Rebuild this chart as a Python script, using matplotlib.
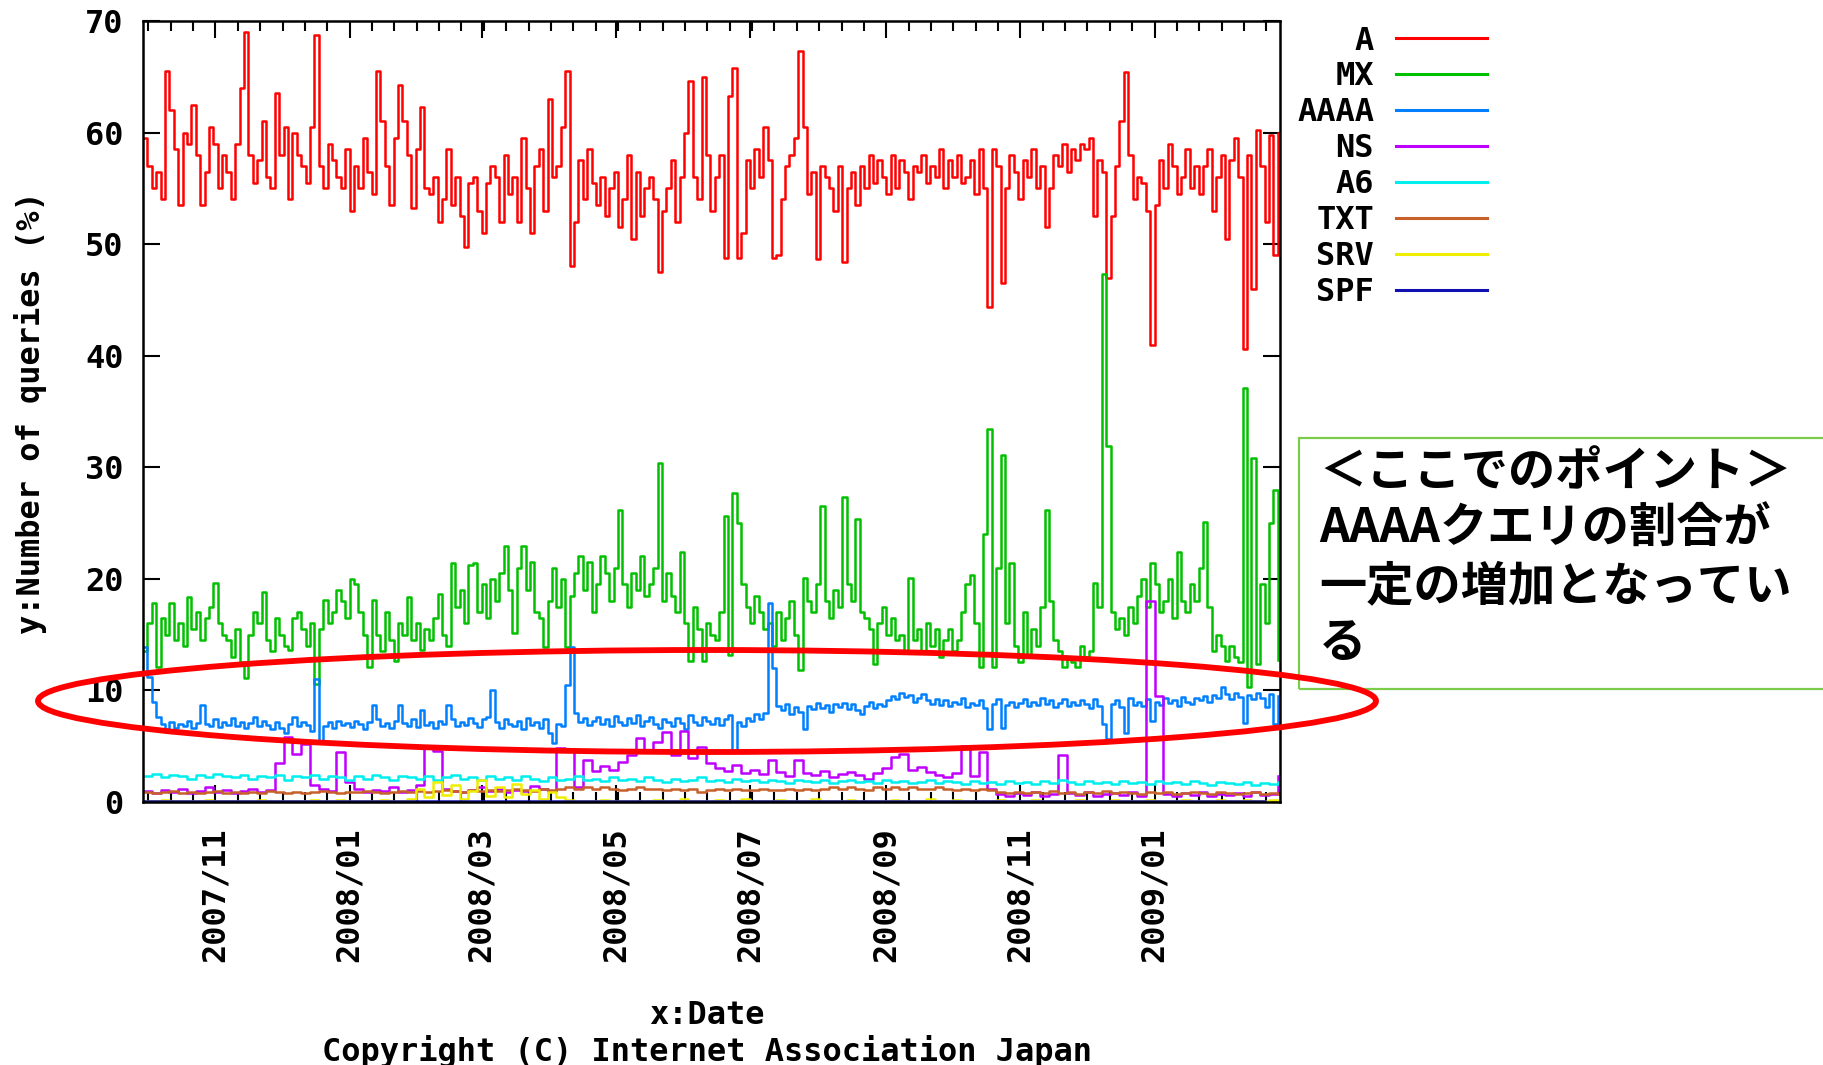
import numpy as np
import pandas as pd
import matplotlib
matplotlib.use("Agg")
import matplotlib.pyplot as plt
import matplotlib.dates as mdates
from matplotlib.patches import Ellipse, Rectangle
from matplotlib.ticker import FixedLocator

plt.rcParams['font.family'] = ['DejaVu Sans Mono']
plt.rcParams['font.weight'] = 'bold'

# share of each query type (%), one sample every 2 days from 2007/09/29
days2 = pd.date_range('2007-09-29', periods=259, freq='2D')

a_rec = [
    59.5, 57, 55, 56.5, 54, 65.5, 62, 58.5, 53.5, 60,
    59, 62.5, 58, 53.5, 56.5, 60.5, 59, 55, 58, 56.5,
    54, 59, 64, 69, 58, 55.5, 57.5, 61, 56, 55,
    63.5, 58, 60.5, 54, 60, 58, 57, 55.5, 60.5, 68.7,
    57, 55, 59, 57.5, 56, 55, 58.5, 53, 57, 55,
    59.5, 56.5, 54.5, 65.5, 61, 57, 53.5, 59.5, 64.3, 61,
    58, 53.2, 58.5, 62.3, 55, 54.5, 56, 52, 54, 58.5,
    53.5, 56, 52.5, 49.7, 55.5, 56, 53, 51, 55.5, 57,
    56, 52, 58, 54.5, 56, 52, 59.5, 55, 51, 57,
    58.5, 53, 63, 56, 57, 60.5, 65.5, 48, 52, 57.5,
    54, 58.5, 55.5, 53.5, 56, 52.5, 55, 56.5, 51.5, 54,
    58, 50.5, 56.5, 52.5, 55, 56, 54, 47.5, 53, 55,
    57.5, 52, 56, 60, 64.6, 56, 54, 65, 58, 53,
    56, 58, 48.8, 63.3, 65.8, 48.8, 51, 57.5, 55, 58.5,
    56, 60.5, 57.5, 48.8, 49, 54, 57, 58, 59.5, 67.3,
    60.5, 54.5, 56.5, 48.7, 57, 56, 55, 53, 57, 48.4,
    55, 56.5, 53.5, 57, 55, 58, 55.5, 57.5, 56, 54.5,
    58, 55, 57.5, 56.5, 54, 57, 56.5, 58, 55.5, 57,
    56, 58.5, 55, 57.5, 56, 58, 55.5, 56, 57.5, 54.5,
    58.5, 55, 44.4, 58.5, 57, 46.5, 55, 58, 56.5, 54,
    57.5, 56, 58.5, 55, 57, 51.5, 55, 58, 57, 59,
    56.5, 58.5, 57.5, 59, 58.5, 59.5, 52.5, 57.5, 56.5, 47,
    52.5, 57, 61, 65.4, 58, 54, 56, 55.5, 53, 41,
    53.5, 57.5, 55, 59, 57, 54.5, 56, 58.5, 55, 57,
    54.5, 57, 58.5, 53, 56, 58, 50.5, 57.5, 59.5, 56,
    40.6, 58, 46, 60.2, 57, 52, 59.8, 49, 60,
]

mx_rec = [
    13.5, 16, 17.8, 12.1, 16.5, 15, 17.8, 14.5, 16, 14,
    18.4, 15.5, 17, 14.5, 16.5, 17.5, 19.6, 16, 15, 14.5,
    13, 15.5, 12.5, 11.1, 15, 17, 16, 18.8, 14.5, 13.5,
    16.5, 15, 14, 13.6, 16.5, 17, 15.5, 14, 16, 10.6,
    15.5, 18.1, 16, 17, 19, 18, 16.5, 20, 19.5, 17,
    15, 12.1, 18.1, 15, 13.5, 17, 14.5, 12.6, 16, 15,
    18.4, 14.5, 16, 13.6, 15.5, 14.5, 16.5, 18.6, 15, 14,
    21.4, 17.5, 19, 16, 21.2, 21.4, 17, 19.5, 16.5, 20,
    18, 20.5, 22.9, 19, 15.1, 21, 22.9, 19, 21.5, 17,
    16.5, 13.9, 18, 21, 17.5, 20, 13.9, 18.5, 20.5, 22,
    19, 21.5, 17, 19.5, 22, 20.5, 18, 21, 26.2, 19.5,
    17.5, 20.5, 19, 22, 18.5, 19.5, 21, 30.4, 18, 20.5,
    18.5, 17, 22.4, 16, 12.6, 17.5, 15.5, 12.6, 16, 15,
    14.5, 17, 25.6, 13.2, 27.7, 25, 19.5, 17.5, 16, 18.5,
    17, 15.5, 16, 14, 17, 14.5, 16.5, 18, 15, 11.8,
    20.1, 18, 17, 19.5, 26.5, 18, 16.5, 19, 17.5, 27.3,
    19.5, 18, 25.4, 17, 16.5, 15.5, 12.4, 16, 17.5, 15,
    16.5, 14.5, 15, 13.5, 20.1, 14.5, 15.5, 13.5, 16, 14,
    15.5, 13, 14.5, 15.5, 13.5, 14.5, 17, 19.5, 20.3, 16,
    12.1, 24, 33.4, 12.1, 21, 31.1, 16, 21.4, 14, 12.5,
    17, 13, 15.5, 14, 17.5, 26.2, 18, 14.5, 13.5, 12.1,
    13, 12.5, 12.1, 14, 13, 13.5, 19.6, 17.5, 47.3, 31.9,
    17, 15.5, 16.5, 15, 17.5, 16, 18.5, 20, 17.5, 21.4,
    19.5, 17, 18, 20, 16.5, 22.4, 18, 17, 19.5, 18,
    21, 25.1, 17.5, 13.5, 15, 14, 12.6, 14, 13, 12.5,
    37.1, 10.3, 30.8, 12.4, 19.5, 16, 25, 28, 12.7,
]

aaaa_rec = [
    13.9, 11.2, 9, 7.6, 7, 6.5, 7.2, 6.6, 7, 6.8,
    7.3, 6.6, 7.1, 8.7, 7, 6.8, 7.4, 6.7, 7.2, 6.9,
    7.5, 6.8, 7.2, 6.6, 7.1, 7.6, 6.8, 7.3, 6.9, 6.5,
    7.2, 6.6, 6.2, 7, 7.6, 6.8, 7.2, 6.9, 6.4, 11,
    5.5, 6.8, 7.2, 6.6, 7.3, 6.9, 7.1, 6.7, 7.3, 7,
    6.5, 7.2, 8.7, 7.4, 6.8, 7.1, 6.6, 7.3, 8.7, 7.1,
    6.8, 7.4, 6.7, 8.2, 6.9, 7.2, 6.6, 7.3, 7, 8.7,
    7.4, 6.8, 7.2, 6.9, 7.5, 7.1, 6.7, 7.4, 7.6, 10,
    7.2, 6.6, 7.4, 7, 6.8, 7.3, 6.5, 7.5, 6.9, 7.2,
    6.6, 7.4, 6.2, 5.3, 7, 6.8, 10.5, 13.9, 8, 7.2,
    7.5, 6.9, 7.3, 7.6, 7, 7.4, 6.8, 7.7, 7.2, 6.9,
    7.5, 7.1, 7.8, 6.8, 7.3, 7.6, 7, 6.6, 7.4, 7.2,
    6.8, 7.5, 7.1, 6.5, 7.8, 7.2, 6.9, 7.6, 7.3, 7,
    7.5, 6.9, 7.4, 7.8, 4.6, 7.2, 6.8, 7.5, 7.3, 7.9,
    7.4, 8, 17.8, 12, 8.6, 8.2, 8.8, 7.9, 8.5, 8.1,
    6.5, 8.6, 8.3, 8.9, 8.4, 8.7, 8.1, 8.8, 8.5, 8.9,
    8.3, 8.8, 8.2, 7.9, 8.6, 9, 8.4, 8.8, 8.6, 9.1,
    9.5, 9.2, 9.8, 9.4, 9.6, 9, 9.3, 9.7, 9.1, 8.8,
    9.2, 8.7, 9.1, 8.6, 9, 8.8, 9.3, 8.5, 8.9, 8.7,
    9.1, 8.4, 6.5, 8.8, 9.2, 6.6, 8.7, 9, 8.5, 8.9,
    9.2, 8.6, 9, 8.7, 9.3, 8.8, 9.1, 8.5, 8.9, 9.2,
    8.6, 9, 8.7, 9.1, 8.8, 8.4, 9.2, 8.6, 7, 5.6,
    8.8, 9.1, 8.5, 6.2, 9.3, 8.7, 9, 8.6, 9.2, 7.3,
    9, 8.7, 9.3, 8.9, 9.1, 8.6, 9.4, 9, 8.8, 9.3,
    9.1, 9.5, 9, 9.6, 9.3, 10.3, 9.7, 9.2, 9.8, 9.4,
    7.1, 9.6, 9.2, 9.8, 9.3, 8.5, 9.7, 7, 9.5,
]

# smaller types, one sample every 4 days
days4 = pd.date_range('2007-09-29', periods=130, freq='4D')

ns_rec = [
    1.0, 0.8, 1.1, 0.9, 1.2, 0.8, 1.0, 1.3, 0.9, 1.1,
    0.8, 1.0, 1.2, 0.9, 1.1, 3.5, 5.8, 4.3, 5.2, 1.5,
    1.2, 1.0, 4.5, 1.8, 1.2, 0.9, 1.1, 1.0, 1.3, 0.9,
    1.1, 1.5, 4.8, 4.6, 1.2, 1.0, 0.9, 1.1, 1.3, 1.0,
    1.2, 0.9, 1.1, 1.0, 1.4, 1.2, 1.0, 4.8, 4.7, 1.3,
    3.8, 2.8, 3.2, 2.9, 3.6, 4.2, 5.7, 4.5, 5.4, 6.3,
    4.2, 6.4, 3.9, 4.9, 3.5, 3.0, 2.8, 3.3, 2.6, 2.9,
    2.5, 3.8, 2.7, 2.3, 3.8, 2.6, 2.4, 2.8, 2.2, 2.5,
    2.7, 2.4, 2.1, 2.6, 3.0, 4.0, 4.3, 2.9, 3.1, 2.7,
    2.4, 2.2, 2.6, 5.0, 2.3, 4.5, 1.2, 0.7, 0.5, 0.8,
    0.6, 0.9, 0.5, 0.7, 4.2, 0.8, 0.6, 0.9, 0.5, 0.7,
    0.8, 0.6, 0.9, 0.5, 18.0, 9.5, 0.7, 0.5, 0.8, 0.6,
    0.9, 0.5, 0.7, 0.6, 0.8, 0.5, 0.9, 0.6, 0.7, 2.3,
]

a6_rec = [
    2.3, 2.5, 2.2, 2.4, 2.3, 2.1, 2.4, 2.2, 2.5, 2.3,
    2.2, 2.4, 2.1, 2.3, 2.2, 2.4, 2.0, 2.3, 2.2, 2.4,
    2.1, 2.3, 2.2, 2.0, 2.3, 2.1, 2.4, 2.2, 2.0, 2.3,
    2.2, 2.1, 2.3, 2.0, 2.2, 2.4, 2.1, 2.2, 2.0, 2.3,
    2.1, 2.2, 2.0, 2.3, 2.1, 1.9, 2.2, 2.0, 2.1, 2.3,
    2.0, 2.1, 1.9, 2.2, 2.0, 2.1, 1.9, 2.2, 2.0, 1.8,
    2.1, 1.9, 2.0, 2.2, 1.9, 2.0, 1.8, 2.1, 1.9, 2.0,
    1.8, 2.0, 1.9, 1.7, 2.0, 1.9, 1.8, 2.0, 1.7, 1.9,
    2.0, 1.8, 1.9, 1.7, 2.0, 1.8, 1.9, 1.7, 1.8, 2.0,
    1.7, 1.9, 1.8, 1.6, 1.9, 1.7, 1.8, 1.6, 1.9, 1.7,
    1.8, 1.6, 1.9, 1.7, 2.0, 1.8, 1.6, 1.9, 1.7, 1.8,
    1.6, 1.9, 1.7, 1.8, 1.6, 1.9, 1.7, 1.8, 1.6, 1.9,
    1.7, 1.5, 1.8, 1.7, 1.6, 1.8, 1.5, 1.7, 1.6, 1.8,
]

txt_rec = [
    0.9, 0.8, 0.9, 1.0, 0.8, 0.9, 0.8, 0.9, 1.0, 0.8,
    0.9, 0.8, 0.9, 0.8, 1.0, 0.9, 0.8, 0.9, 0.8, 0.9,
    1.0, 0.9, 0.8, 0.9, 0.9, 1.0, 0.9, 0.8, 0.9, 1.0,
    0.9, 1.0, 0.9, 1.0, 1.1, 1.0, 0.9, 1.1, 1.0, 1.1,
    1.0, 1.1, 1.2, 1.1, 1.0, 1.2, 1.1, 1.2, 1.3, 1.2,
    1.3, 1.2, 1.3, 1.2, 1.1, 1.2, 1.3, 1.2, 1.2, 1.1,
    1.2, 1.1, 1.2, 0.9, 1.1, 1.2, 1.1, 1.2, 1.1, 1.1,
    1.2, 1.1, 1.1, 1.2, 1.1, 1.2, 1.1, 1.2, 1.3, 1.2,
    1.3, 1.2, 1.1, 1.3, 1.2, 1.3, 1.2, 1.3, 1.2, 1.2,
    1.3, 1.2, 1.1, 1.2, 1.1, 1.2, 1.1, 0.9, 0.8, 0.9,
    0.8, 0.9, 0.8, 1.0, 0.8, 0.9, 0.7, 0.9, 0.8, 1.0,
    0.8, 0.9, 0.8, 0.7, 0.9, 0.8, 0.9, 0.7, 0.8, 0.9,
    0.8, 0.7, 0.9, 0.8, 0.7, 0.8, 0.9, 0.7, 0.8, 0.7,
]

srv_rec = [
    0.1, 0.1, 0.2, 0.1, 0.1, 0.1, 0.1, 0.2, 0.1, 0.1,
    0.1, 0.1, 0.1, 0.2, 0.1, 0.1, 0.1, 0.1, 0.1, 0.2,
    0.1, 0.1, 0.2, 0.1, 0.1, 0.1, 0.1, 0.2, 0.1, 0.1,
    0.3, 1.2, 0.4, 1.8, 0.6, 1.5, 0.3, 1.0, 2.0, 0.5,
    1.3, 0.4, 1.6, 0.7, 1.1, 0.3, 0.9, 0.4, 0.2, 0.1,
    0.1, 0.1, 0.2, 0.1, 0.1, 0.1, 0.1, 0.1, 0.2, 0.1,
    0.1, 0.3, 0.1, 0.1, 0.1, 0.2, 0.1, 0.1, 0.3, 0.1,
    0.1, 0.1, 0.2, 0.1, 0.1, 0.1, 0.3, 0.1, 0.1, 0.1,
    0.2, 0.1, 0.1, 0.1, 0.1, 0.2, 0.1, 0.1, 0.1, 0.3,
    0.1, 0.1, 0.2, 0.1, 0.1, 0.1, 0.1, 0.2, 0.1, 0.1,
    0.1, 0.2, 0.1, 0.1, 0.1, 0.1, 0.2, 0.1, 0.1, 0.1,
    0.2, 0.1, 0.1, 0.1, 0.2, 0.1, 0.1, 0.1, 0.2, 0.1,
    0.1, 0.1, 0.2, 0.1, 0.1, 0.2, 0.1, 0.1, 0.2, 0.1,
]

# SPF barely registers, one sample every 30 days
days30 = pd.date_range('2007-09-29', periods=18, freq='30D')
spf_rec = [0.05, 0.05, 0.05, 0.05, 0.05, 0.05, 0.05, 0.05, 0.05,
           0.05, 0.05, 0.05, 0.05, 0.05, 0.05, 0.05, 0.05, 0.05]

series = [
    ('A', days2, a_rec, '#ff0000'),
    ('MX', days2, mx_rec, '#00c000'),
    ('AAAA', days2, aaaa_rec, '#0080ff'),
    ('NS', days4, ns_rec, '#c000ff'),
    ('A6', days4, a6_rec, '#00eeee'),
    ('TXT', days4, txt_rec, '#c8602a'),
    ('SRV', days4, srv_rec, '#eeee00'),
    ('SPF', days30, spf_rec, '#1010b0'),
]

tick_months = ['2007-11-01', '2008-01-01', '2008-03-01', '2008-05-01',
               '2008-07-01', '2008-09-01', '2008-11-01', '2009-01-01']

fig = plt.figure(figsize=(18.23, 10.65), dpi=100)
ax = fig.add_axes([0.0784, 0.2470, 0.6237, 0.7333])

for name, d, vals, col in series:
    ax.plot(d, vals, color=col, lw=1.8, drawstyle='steps-post', label=name)

ax.set_xlim(pd.Timestamp('2007-09-29'), pd.Timestamp('2009-02-27'))
ax.set_ylim(0, 70)
ax.set_yticks(np.arange(0, 71, 10))

major = mdates.date2num(pd.to_datetime(tick_months))
step = np.diff(major).mean() / 6
minor = np.arange(major[0] - 6 * step, major[-1] + 6 * step, step)
ax.xaxis.set_major_locator(FixedLocator(major))
ax.xaxis.set_minor_locator(FixedLocator(minor))
ax.xaxis.set_major_formatter(mdates.DateFormatter('%Y/%m'))

ax.tick_params(which='both', direction='in', top=True, right=True,
               width=1.5, labelsize=23)
ax.tick_params(which='major', length=12)
ax.tick_params(which='minor', length=7)
ax.tick_params(axis='y', pad=14)
ax.tick_params(axis='x', pad=18)
for lab in ax.get_xticklabels():
    lab.set_rotation(90)
for s in ax.spines.values():
    s.set_linewidth(1.8)

leg = ax.legend(loc='upper left', bbox_to_anchor=(1297 / 1823, 1 - 25.5 / 1065),
                bbox_transform=fig.transFigure, frameon=False, fontsize=23,
                markerfirst=False, handlelength=2.85, handletextpad=0.7,
                labelspacing=0.155, borderpad=0, borderaxespad=0)
for h in leg.get_lines():
    h.set_linewidth(2.2)

fig.text(31 / 1823, 1 - 413 / 1065, 'y:Number of queries (%)', rotation=90,
         ha='center', va='center', fontsize=23)
fig.text(707 / 1823, 1 - 1015 / 1065, 'x:Date', ha='center', va='center',
         fontsize=23)
fig.text(707 / 1823, 1 - 1051 / 1065, 'Copyright (C) Internet Association Japan',
         ha='center', va='center', fontsize=23)

# red ring around the AAAA band
fig.add_artist(Ellipse((707 / 1823, 1 - 701 / 1065), 1338 / 1823, 102 / 1065,
                       transform=fig.transFigure, fill=False,
                       edgecolor='#ff0000', lw=4.2, zorder=10))

# note box on the right
fig.add_artist(Rectangle((1299 / 1823, 1 - 689 / 1065), 0.3, 251 / 1065,
                         transform=fig.transFigure, fill=False,
                         edgecolor='#7ccc4c', lw=1.6))
note = ['＜ここでのポイント＞', 'AAAAクエリの割合が', '一定の増加となってい', 'る']
for k, line in enumerate(note):
    fig.text(1319 / 1823, 1 - (472 + 57 * k) / 1065, line, ha='left',
             va='center', fontsize=34, fontweight='bold',
             family=['Noto Sans CJK JP', 'DejaVu Sans'])

fig.savefig('out.png', dpi=100)
